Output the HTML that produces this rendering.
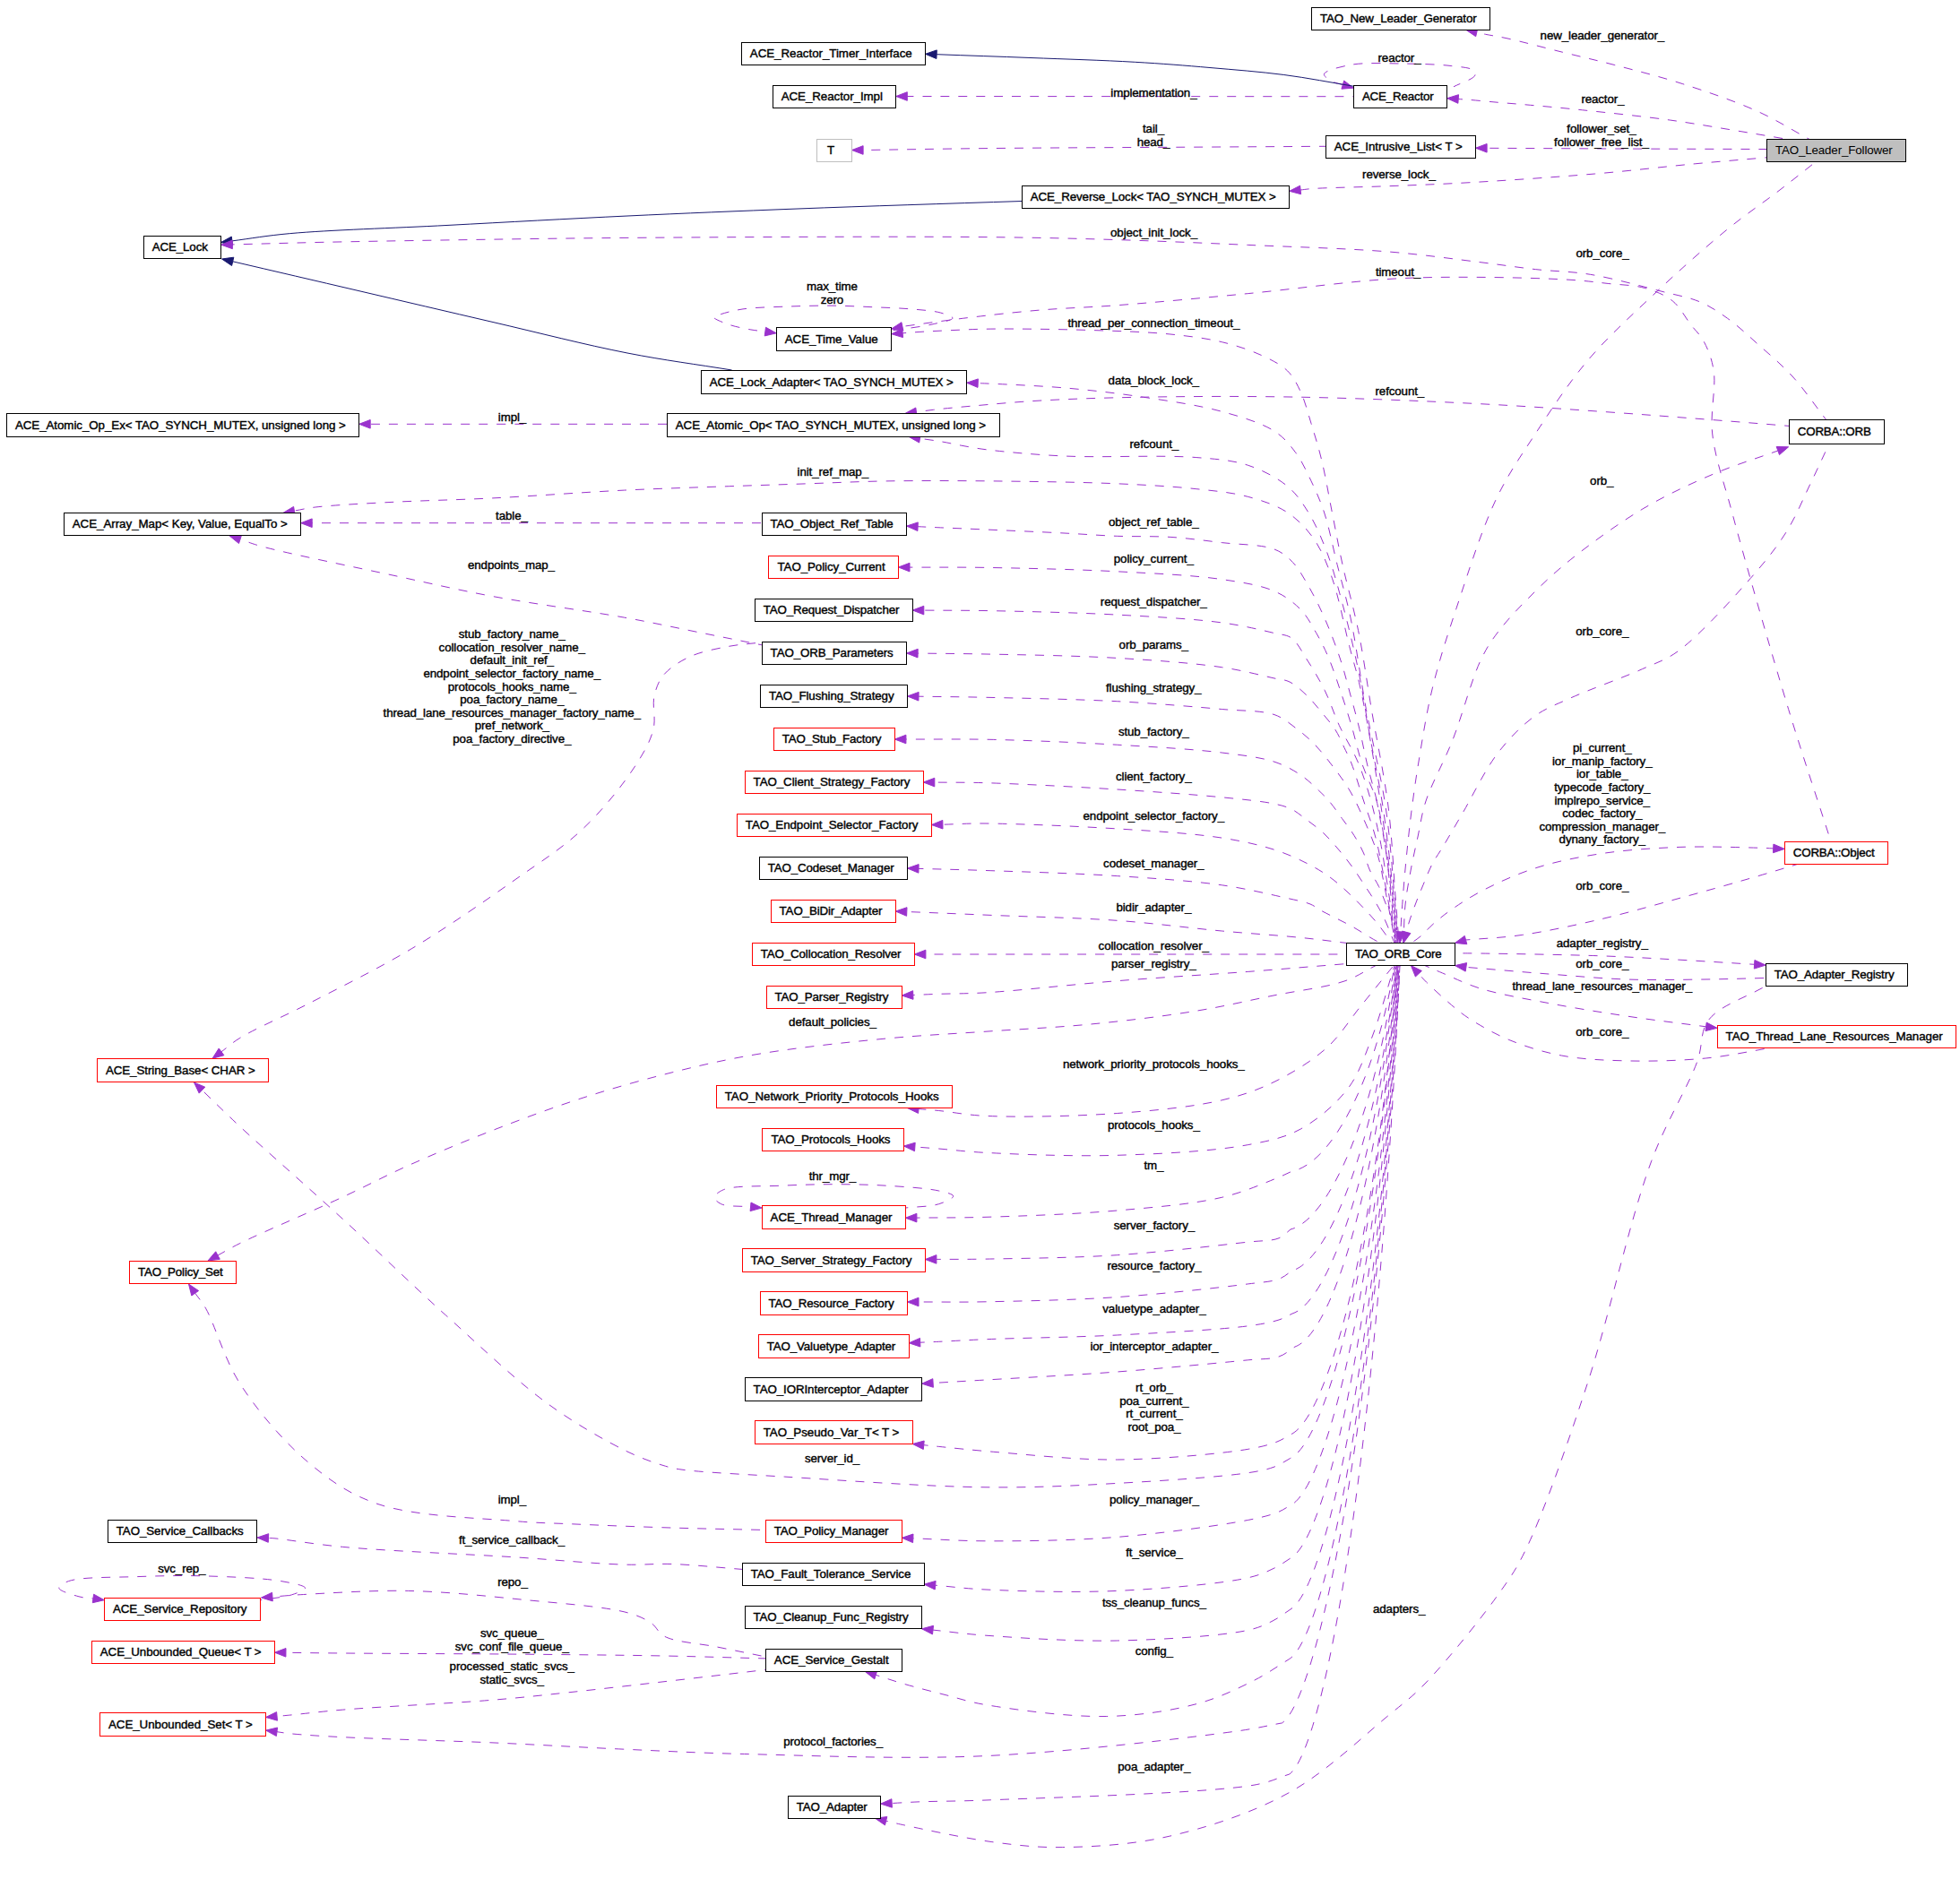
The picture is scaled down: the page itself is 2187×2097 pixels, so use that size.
<!DOCTYPE html><html><head><meta charset="utf-8"><style>html,body{margin:0;padding:0;background:#fff;overflow:hidden;}svg{display:block;}text{font-family:"Liberation Sans",sans-serif;font-size:13.33px;fill:#000;stroke:#000;stroke-width:0.4px;}</style></head><body>
<svg width="2187" height="2097" viewBox="0 0 2187 2097">
<rect width="100%" height="100%" fill="#fff"/>
<g fill="none" stroke-width="1">
<path d="M2019.0,155.5 C1999.7,145.1 1982.5,133.9 1961.0,124.2 C1936.0,112.9 1904.6,102.3 1877.2,93.5 C1851.6,85.3 1825.5,78.8 1801.9,72.6 C1781.2,67.2 1763.0,63.1 1743.3,58.2 C1723.1,53.2 1697.8,46.4 1682.0,42.9 C1672.1,40.7 1663.9,39.6 1657.6,38.3 C1653.6,37.5 1651.1,36.8 1647.8,36.0" stroke="#9a32cd" stroke-dasharray="10,10" stroke-dashoffset="7"/>
<polygon points="1635.6,33.2 1648.9,31.3 1646.7,40.7" fill="#9a32cd" stroke="#9a32cd" stroke-width="1"/>
<path d="M1995.0,155.5 C1974.3,152.0 1954.3,148.6 1933.0,145.1 C1910.5,141.4 1888.5,137.5 1863.3,134.0 C1833.5,129.9 1794.0,125.8 1765.6,122.8 C1743.8,120.5 1724.6,118.8 1707.6,117.3 C1694.2,116.1 1683.6,115.3 1671.8,114.3 C1660.1,113.3 1645.2,111.8 1637.1,111.2 C1632.8,110.9 1630.5,110.8 1627.2,110.5" stroke="#9a32cd" stroke-dasharray="10,10" stroke-dashoffset="14"/>
<polygon points="1614.7,109.7 1627.5,105.7 1626.9,115.3" fill="#9a32cd" stroke="#9a32cd" stroke-width="1"/>
<path d="M1971.3,166.5 C1914.2,166.3 1854.3,166.2 1800.0,166.0 C1750.7,165.8 1706.1,165.5 1659.1,165.3" stroke="#9a32cd" stroke-dasharray="10,10" stroke-dashoffset="1"/>
<polygon points="1646.6,165.2 1659.1,160.5 1659.1,170.1" fill="#9a32cd" stroke="#9a32cd" stroke-width="1"/>
<path d="M1971.3,175.8 C1944.6,178.1 1920.1,180.1 1891.2,182.8 C1857.0,186.0 1818.8,190.7 1779.5,194.0 C1735.6,197.7 1681.6,201.3 1640.0,203.7 C1606.5,205.6 1578.7,206.6 1549.0,207.7 C1520.4,208.8 1480.9,209.4 1464.8,210.5 C1458.3,211.0 1455.7,211.5 1451.1,212.0" stroke="#9a32cd" stroke-dasharray="10,10" stroke-dashoffset="8"/>
<polygon points="1438.7,213.3 1450.6,207.2 1451.6,216.7" fill="#9a32cd" stroke="#9a32cd" stroke-width="1"/>
<path d="M2026.0,180.6 C2012.7,191.1 2000.7,200.7 1986.0,212.0 C1968.3,225.6 1947.8,239.3 1926.8,256.4 C1901.3,277.2 1871.1,304.3 1844.9,329.0 C1819.4,353.0 1793.8,376.1 1771.7,402.2 C1749.9,427.9 1730.8,457.2 1713.2,484.1 C1697.0,508.9 1682.7,529.1 1669.3,557.3 C1652.8,592.0 1637.6,641.2 1625.1,678.7 C1614.5,710.6 1605.4,738.8 1598.3,768.1 C1591.6,795.8 1587.0,825.9 1583.0,850.0 C1579.8,869.0 1577.6,885.1 1575.5,901.0 C1573.7,914.9 1572.4,926.4 1571.0,940.0 C1569.4,954.9 1567.7,972.7 1566.5,987.0 C1565.5,999.0 1564.7,1010.4 1564.0,1020.0 C1563.5,1027.5 1563.2,1033.3 1562.8,1039.9" stroke="#9a32cd" stroke-dasharray="10,10" stroke-dashoffset="15"/>
<polygon points="1562.0,1052.4 1558.0,1039.6 1567.6,1040.2" fill="#9a32cd" stroke="#9a32cd" stroke-width="1"/>
<path d="M1622.0,96.8 C1629.9,92.6 1644.0,88.3 1645.8,84.2 C1646.6,82.3 1646.0,80.1 1644.4,78.6 C1641.0,75.4 1629.2,74.7 1619.1,73.5 C1604.1,71.7 1581.7,71.2 1563.0,71.0 C1544.3,70.8 1522.4,69.5 1506.9,72.4 C1495.3,74.5 1478.1,78.8 1477.4,82.8 C1476.9,85.4 1483.6,89.2 1487.2,91.2 C1490.6,93.1 1494.6,93.4 1498.3,94.6" stroke="#9a32cd" stroke-dasharray="10,10" stroke-dashoffset="2"/>
<polygon points="1510.3,98.2 1496.9,99.2 1499.7,90.0" fill="#9a32cd" stroke="#9a32cd" stroke-width="1"/>
<path d="M1510.3,107.7 C1406.9,107.7 1290.5,107.6 1200.0,107.6 C1129.6,107.6 1074.9,107.5 1012.3,107.5" stroke="#9a32cd" stroke-dasharray="10,10" stroke-dashoffset="9"/>
<polygon points="999.8,107.5 1012.3,102.7 1012.3,112.3" fill="#9a32cd" stroke="#9a32cd" stroke-width="1"/>
<path d="M1512.0,96.5 C1485.6,92.2 1459.6,87.0 1432.8,83.5 C1405.6,80.0 1377.7,77.9 1350.0,75.5 C1322.2,73.1 1296.6,71.0 1266.4,69.3 C1230.8,67.2 1187.8,66.0 1150.0,64.5 C1114.1,63.1 1080.1,62.0 1045.1,60.7" stroke="#191970"/>
<polygon points="1032.6,60.3 1045.3,55.9 1044.9,65.5" fill="#191970" stroke="#191970" stroke-width="1"/>
<path d="M1479.1,163.3 C1427.6,163.6 1380.8,163.9 1324.5,164.2 C1256.6,164.6 1165.6,164.9 1100.0,165.6 C1048.8,166.1 1008.7,166.9 963.1,167.5" stroke="#9a32cd" stroke-dasharray="10,10" stroke-dashoffset="3"/>
<polygon points="950.6,167.5 963.1,162.7 963.1,172.3" fill="#9a32cd" stroke="#9a32cd" stroke-width="1"/>
<path d="M1140.1,224.5 C1056.7,227.3 967.6,230.0 890.0,233.0 C822.3,235.6 764.1,238.0 700.0,241.0 C634.2,244.1 564.6,248.0 500.0,251.4 C439.4,254.6 368.0,256.6 323.7,260.6 C296.7,263.0 280.5,266.1 258.9,268.9" stroke="#191970"/>
<polygon points="246.5,270.5 258.3,264.1 259.5,273.7" fill="#191970" stroke="#191970" stroke-width="1"/>
<path d="M816.6,413.0 C777.7,406.7 741.2,402.1 700.0,394.0 C653.0,384.8 600.0,371.1 550.0,359.5 C500.0,347.9 449.2,336.0 400.0,324.5 C352.4,313.4 306.4,302.7 259.7,291.8" stroke="#191970"/>
<polygon points="247.5,289.0 260.8,287.2 258.6,296.5" fill="#191970" stroke="#191970" stroke-width="1"/>
<path d="M2038.0,468.9 C2025.3,452.6 2013.3,434.5 2000.0,420.0 C1987.8,406.7 1974.5,395.7 1962.0,384.6 C1950.4,374.2 1939.1,363.5 1927.6,355.3 C1917.4,348.0 1908.3,341.8 1897.0,337.0 C1884.7,331.7 1872.1,329.8 1856.1,325.7 C1833.6,319.9 1799.9,310.5 1774.5,306.3 C1752.8,302.7 1733.7,302.9 1713.3,300.6 C1692.9,298.3 1675.0,295.5 1652.0,292.7 C1622.3,289.1 1587.7,284.1 1550.0,281.0 C1503.3,277.2 1444.2,275.7 1392.7,273.4 C1343.1,271.2 1295.2,269.1 1246.4,267.6 C1197.6,266.1 1160.8,265.2 1100.0,264.6 C999.5,263.7 810.5,264.6 700.0,265.4 C621.9,266.0 561.1,267.0 500.0,267.9 C448.3,268.7 400.1,269.5 357.0,270.4 C321.3,271.2 291.9,272.1 259.3,272.9" stroke="#9a32cd" stroke-dasharray="10,10" stroke-dashoffset="4"/>
<polygon points="246.8,273.2 259.2,268.1 259.4,277.7" fill="#9a32cd" stroke="#9a32cd" stroke-width="1"/>
<path d="M2043.0,939.2 C2027.2,889.9 2012.1,845.7 1995.6,791.4 C1975.6,725.6 1947.9,628.8 1932.7,572.0 C1923.1,536.2 1913.8,511.9 1910.7,484.0 C1907.9,459.5 1915.1,432.7 1912.2,413.9 C1910.2,400.6 1905.9,389.9 1901.0,380.8 C1897.0,373.4 1891.9,369.1 1886.7,362.4 C1880.5,354.4 1874.8,342.7 1866.3,335.9 C1857.8,329.1 1846.9,324.8 1835.7,321.6 C1823.3,318.0 1808.5,318.0 1794.9,316.5 C1781.3,315.0 1770.7,313.5 1754.0,312.4 C1727.7,310.7 1686.0,309.6 1652.0,309.4 C1618.0,309.2 1587.6,309.1 1550.0,311.4 C1503.2,314.3 1444.2,322.6 1392.7,327.6 C1343.1,332.4 1288.8,337.5 1246.4,340.7 C1213.8,343.2 1188.0,343.7 1160.0,346.1 C1133.4,348.3 1103.3,351.8 1082.4,354.3 C1068.2,356.0 1058.9,357.3 1046.7,358.9 C1033.8,360.6 1020.2,362.6 1006.9,364.4" stroke="#9a32cd" stroke-dasharray="10,10" stroke-dashoffset="11"/>
<polygon points="994.7,367.0 1005.9,359.7 1007.9,369.1" fill="#9a32cd" stroke="#9a32cd" stroke-width="1"/>
<path d="M994.7,369.0 C1009.8,366.7 1027.5,364.8 1040.0,362.0 C1049.0,359.9 1062.9,357.5 1063.0,355.0 C1063.1,353.1 1055.1,350.6 1049.4,349.0 C1041.0,346.7 1028.2,345.9 1016.7,344.9 C1003.9,343.8 990.1,343.4 975.9,342.8 C960.3,342.1 943.3,341.2 927.0,341.1 C910.7,341.0 894.3,341.5 878.0,342.1 C861.7,342.7 842.5,343.0 829.0,344.9 C819.4,346.3 810.4,348.7 804.5,350.6 C801.0,351.7 796.4,352.5 796.3,353.9 C796.2,355.9 806.6,359.8 812.7,362.0 C819.9,364.6 829.7,366.4 837.1,367.8 C843.2,368.9 848.2,369.3 853.8,370.1" stroke="#9a32cd" stroke-dasharray="10,10" stroke-dashoffset="18"/>
<polygon points="866.2,371.8 853.2,374.9 854.5,365.3" fill="#9a32cd" stroke="#9a32cd" stroke-width="1"/>
<path d="M1996.2,475.4 C1965.3,472.9 1936.1,470.5 1903.4,468.0 C1866.6,465.2 1827.0,462.1 1786.3,459.3 C1742.0,456.2 1697.6,453.0 1647.3,450.5 C1587.6,447.5 1514.9,444.4 1451.3,443.2 C1391.1,442.1 1328.1,442.3 1275.6,443.2 C1233.0,443.9 1194.7,445.1 1160.0,447.1 C1131.5,448.7 1104.1,451.4 1082.4,453.3 C1066.6,454.7 1052.7,456.0 1041.6,457.3 C1034.0,458.2 1028.8,459.0 1022.4,459.8" stroke="#9a32cd" stroke-dasharray="10,10" stroke-dashoffset="5"/>
<polygon points="1010.0,461.4 1021.8,455.0 1023.0,464.6" fill="#9a32cd" stroke="#9a32cd" stroke-width="1"/>
<path d="M1561.0,1052.4 C1559.7,1034.9 1558.6,1020.3 1557.0,1000.0 C1554.8,972.0 1553.3,933.9 1549.0,900.0 C1544.5,864.5 1536.1,825.8 1530.3,791.5 C1525.1,760.7 1521.3,731.5 1515.6,703.7 C1510.4,678.1 1503.2,653.6 1498.1,630.5 C1493.6,610.0 1490.3,591.5 1486.4,572.0 C1482.5,552.5 1479.0,531.1 1474.7,513.4 C1471.1,498.5 1467.0,485.6 1463.0,472.5 C1459.2,460.3 1456.2,447.6 1451.3,437.3 C1447.1,428.4 1443.3,420.5 1436.6,413.9 C1429.1,406.6 1418.4,401.5 1407.3,396.4 C1394.4,390.5 1379.3,385.5 1363.4,381.7 C1345.5,377.4 1326.4,375.1 1304.9,372.9 C1278.7,370.3 1248.1,369.5 1217.1,368.5 C1182.2,367.4 1134.5,366.8 1105.9,367.1 C1087.9,367.3 1075.3,368.0 1062.0,368.6 C1050.9,369.1 1041.0,369.5 1031.4,370.1 C1022.8,370.6 1015.2,371.2 1007.2,371.8" stroke="#9a32cd" stroke-dasharray="10,10" stroke-dashoffset="12"/>
<polygon points="994.7,372.7 1006.8,367.0 1007.5,376.6" fill="#9a32cd" stroke="#9a32cd" stroke-width="1"/>
<path d="M1560.0,1052.4 C1558.7,1034.9 1557.8,1020.3 1556.0,1000.0 C1553.5,972.0 1551.1,933.9 1546.0,900.0 C1540.7,864.4 1531.0,827.2 1524.4,791.5 C1518.0,756.9 1513.1,718.4 1506.9,689.1 C1502.2,666.8 1497.1,650.0 1492.2,630.5 C1487.3,611.0 1483.2,588.9 1477.6,572.0 C1473.2,558.6 1468.4,548.1 1463.0,536.8 C1457.7,525.7 1452.5,514.1 1445.4,504.7 C1438.7,495.7 1432.5,488.0 1422.0,481.2 C1407.6,471.9 1385.2,465.3 1363.4,459.3 C1337.4,452.1 1304.9,447.6 1275.6,443.2 C1246.4,438.8 1217.0,435.4 1187.8,432.9 C1158.8,430.4 1115.6,428.7 1101.0,428.0 C1096.1,427.8 1094.5,427.8 1091.2,427.6" stroke="#9a32cd" stroke-dasharray="10,10" stroke-dashoffset="19"/>
<polygon points="1078.7,427.2 1091.4,422.9 1091.0,432.4" fill="#9a32cd" stroke="#9a32cd" stroke-width="1"/>
<path d="M1560.0,1052.4 C1558.3,1034.9 1557.2,1020.2 1555.0,1000.0 C1552.0,972.0 1547.8,931.4 1543.0,900.0 C1538.7,871.8 1533.0,846.0 1528.3,820.0 C1523.9,795.3 1520.6,771.7 1515.6,747.6 C1510.5,723.2 1504.3,697.4 1498.1,674.4 C1492.5,653.7 1487.3,633.8 1480.5,615.9 C1474.4,600.0 1467.9,584.8 1460.0,572.0 C1453.0,560.8 1446.7,551.1 1436.6,542.7 C1425.0,533.1 1408.9,524.7 1392.7,519.3 C1375.0,513.5 1358.2,512.4 1334.2,510.5 C1296.5,507.5 1230.4,511.0 1187.8,509.0 C1154.8,507.5 1121.0,504.3 1100.0,501.7 C1088.1,500.2 1080.7,498.6 1072.2,497.1 C1064.9,495.8 1059.0,494.3 1051.8,493.1 C1043.8,491.7 1034.9,490.5 1026.5,489.3" stroke="#9a32cd" stroke-dasharray="10,10" stroke-dashoffset="6"/>
<polygon points="1014.1,487.4 1027.2,484.5 1025.7,494.0" fill="#9a32cd" stroke="#9a32cd" stroke-width="1"/>
<path d="M1559.0,1052.4 C1557.3,1034.9 1556.3,1020.2 1554.0,1000.0 C1550.8,972.0 1545.9,933.2 1541.0,900.0 C1536.1,866.9 1529.3,826.9 1524.6,801.3 C1521.6,785.0 1519.5,774.6 1516.4,761.3 C1513.3,748.0 1509.8,737.1 1505.8,721.7 C1500.2,700.4 1494.1,666.9 1486.4,645.2 C1480.3,628.2 1474.7,613.8 1465.9,601.3 C1457.8,589.7 1448.3,579.7 1436.6,572.0 C1424.1,563.8 1408.7,558.7 1392.7,554.4 C1374.9,549.6 1355.7,547.9 1334.2,545.6 C1307.9,542.8 1279.0,541.2 1246.4,539.8 C1205.7,538.0 1153.1,537.4 1108.8,536.9 C1067.5,536.5 1025.9,536.3 989.1,536.9 C957.5,537.4 930.5,538.8 901.2,539.8 C871.9,540.8 844.8,541.6 813.4,542.7 C777.2,544.0 737.6,545.1 696.4,547.1 C650.3,549.4 595.4,553.6 550.0,555.9 C510.5,557.9 473.8,558.5 439.0,560.3 C408.0,561.9 370.9,563.7 351.2,566.1 C341.1,567.3 336.0,568.8 328.4,570.1" stroke="#9a32cd" stroke-dasharray="10,10" stroke-dashoffset="13"/>
<polygon points="316.1,572.3 327.6,565.4 329.2,574.9" fill="#9a32cd" stroke="#9a32cd" stroke-width="1"/>
<path d="M1559.0,1052.4 C1557.0,1034.9 1555.6,1019.8 1553.0,1000.0 C1549.6,974.0 1545.3,936.6 1540.0,910.0 C1535.7,888.4 1529.4,869.3 1525.3,851.9 C1522.0,837.8 1520.0,826.4 1516.9,813.6 C1513.8,800.7 1510.3,788.0 1506.7,775.0 C1503.1,761.8 1499.9,748.7 1495.3,735.0 C1490.3,720.1 1483.9,703.1 1477.6,689.0 C1472.0,676.4 1466.2,664.7 1460.0,654.0 C1454.4,644.4 1449.3,634.6 1442.5,627.6 C1436.4,621.3 1431.2,616.6 1422.0,613.0 C1408.0,607.5 1382.8,607.9 1363.4,605.6 C1344.2,603.3 1325.4,600.6 1306.1,599.4 C1286.4,598.2 1266.5,599.0 1246.4,598.3 C1225.7,597.5 1206.1,595.9 1183.7,594.8 C1157.8,593.5 1124.9,592.1 1100.0,591.0 C1080.0,590.1 1059.9,589.3 1045.9,588.7 C1037.0,588.3 1031.4,588.0 1024.1,587.7" stroke="#9a32cd" stroke-dasharray="10,10" stroke-dashoffset="0"/>
<polygon points="1011.6,587.1 1024.3,582.9 1023.9,592.5" fill="#9a32cd" stroke="#9a32cd" stroke-width="1"/>
<path d="M1558.0,1052.4 C1556.0,1034.9 1553.9,1017.3 1552.0,1000.0 C1550.1,983.1 1548.8,965.5 1546.5,950.0 C1544.5,936.4 1541.7,922.6 1539.6,912.0 C1538.1,904.3 1537.8,899.7 1535.5,892.0 C1532.1,880.7 1524.0,864.9 1519.4,851.2 C1515.0,837.9 1512.3,824.4 1508.4,811.2 C1504.5,798.0 1500.4,785.0 1496.0,772.0 C1491.6,758.9 1487.0,744.6 1482.0,733.0 C1477.8,723.2 1473.8,715.2 1468.8,706.6 C1463.6,697.7 1458.8,687.9 1451.3,680.3 C1443.4,672.2 1434.1,665.1 1422.0,659.8 C1406.3,652.9 1386.4,650.0 1363.4,646.6 C1331.2,641.8 1287.6,640.0 1246.4,637.8 C1200.4,635.4 1142.2,634.1 1100.0,633.4 C1067.8,632.9 1043.3,633.2 1015.0,633.1" stroke="#9a32cd" stroke-dasharray="10,10" stroke-dashoffset="7"/>
<polygon points="1002.5,633.0 1015.0,628.3 1015.0,637.9" fill="#9a32cd" stroke="#9a32cd" stroke-width="1"/>
<path d="M1558.0,1052.4 C1555.3,1034.9 1552.7,1017.4 1550.0,1000.0 C1547.3,982.8 1544.3,961.7 1542.0,948.5 C1540.5,940.3 1539.7,936.2 1538.0,928.5 C1535.7,917.9 1532.7,903.7 1529.0,891.0 C1525.1,877.5 1520.7,863.4 1515.0,850.0 C1509.2,836.2 1500.5,823.0 1494.3,809.5 C1488.3,796.4 1484.3,782.8 1478.1,770.3 C1472.0,758.0 1464.3,745.4 1457.6,735.0 C1452.0,726.4 1447.7,716.7 1441.0,712.0 C1435.4,708.1 1430.1,708.6 1422.0,706.6 C1407.9,703.2 1386.4,698.0 1363.4,694.9 C1331.2,690.5 1287.0,688.3 1246.4,686.1 C1202.4,683.7 1148.2,682.5 1108.8,681.7 C1079.1,681.1 1056.8,681.3 1030.8,681.1" stroke="#9a32cd" stroke-dasharray="10,10" stroke-dashoffset="14"/>
<polygon points="1018.3,681.0 1030.8,676.3 1030.8,685.9" fill="#9a32cd" stroke="#9a32cd" stroke-width="1"/>
<path d="M1557.0,1052.4 C1554.0,1034.9 1551.4,1018.4 1548.0,1000.0 C1544.2,979.5 1540.1,954.3 1535.0,935.0 C1530.8,919.1 1525.6,906.1 1521.0,892.0 C1516.6,878.4 1512.1,862.5 1508.0,852.0 C1505.2,844.9 1502.9,840.5 1500.0,834.5 C1496.9,828.0 1494.1,820.9 1490.0,814.5 C1485.7,807.7 1479.9,801.3 1474.7,795.0 C1469.6,788.8 1464.8,782.6 1459.0,777.0 C1453.0,771.2 1445.8,764.3 1439.0,761.0 C1433.4,758.3 1429.4,758.6 1422.0,757.0 C1408.3,754.0 1386.4,748.1 1363.4,744.7 C1331.2,739.9 1287.6,736.8 1246.4,734.4 C1200.4,731.7 1140.9,730.8 1100.0,730.0 C1070.6,729.4 1049.4,729.4 1024.1,729.1" stroke="#9a32cd" stroke-dasharray="10,10" stroke-dashoffset="1"/>
<polygon points="1011.6,729.0 1024.2,724.3 1024.0,733.9" fill="#9a32cd" stroke="#9a32cd" stroke-width="1"/>
<path d="M1557.0,1052.4 C1553.0,1031.6 1548.7,1008.1 1545.0,990.0 C1542.2,976.0 1540.6,964.9 1537.0,953.0 C1533.5,941.4 1528.9,930.8 1524.0,919.5 C1518.8,907.5 1513.0,894.1 1506.5,883.0 C1500.5,872.8 1493.8,863.9 1487.0,855.0 C1480.3,846.2 1473.2,837.2 1465.9,829.8 C1459.3,823.1 1452.7,817.5 1445.4,812.2 C1438.1,806.8 1432.1,801.1 1422.0,797.6 C1407.3,792.6 1386.3,793.6 1363.4,791.5 C1331.1,788.6 1287.6,784.9 1246.4,782.7 C1200.4,780.3 1140.7,779.2 1100.0,778.3 C1070.9,777.6 1050.0,777.6 1025.0,777.2" stroke="#9a32cd" stroke-dasharray="10,10" stroke-dashoffset="8"/>
<polygon points="1012.5,777.0 1025.1,772.4 1024.9,782.0" fill="#9a32cd" stroke="#9a32cd" stroke-width="1"/>
<path d="M1558.0,1052.4 C1556.6,1043.9 1555.9,1034.6 1553.7,1026.8 C1551.7,1019.9 1548.5,1014.2 1546.0,1008.0 C1543.5,1001.9 1541.6,995.7 1538.7,989.7 C1535.7,983.4 1531.3,977.4 1528.4,971.0 C1525.6,964.8 1524.3,958.3 1521.5,952.0 C1518.6,945.4 1514.9,938.8 1511.0,932.5 C1507.0,926.0 1502.1,919.8 1497.5,913.5 C1492.8,907.0 1487.7,899.5 1483.0,894.0 C1479.2,889.5 1476.1,886.6 1471.7,882.4 C1466.0,877.0 1459.1,870.1 1451.3,864.9 C1442.7,859.2 1433.8,854.1 1422.0,850.2 C1406.1,845.0 1386.4,842.9 1363.4,840.0 C1331.2,836.0 1287.0,833.6 1246.4,831.2 C1202.4,828.6 1150.8,826.4 1108.8,825.4 C1073.4,824.6 1043.5,825.2 1010.9,825.0" stroke="#9a32cd" stroke-dasharray="10,10" stroke-dashoffset="15"/>
<polygon points="998.4,825.0 1010.9,820.2 1010.9,829.8" fill="#9a32cd" stroke="#9a32cd" stroke-width="1"/>
<path d="M1556.0,1052.4 C1551.8,1042.5 1547.7,1031.4 1543.5,1022.7 C1540.0,1015.6 1536.7,1010.1 1533.0,1004.0 C1529.4,998.0 1525.6,992.6 1521.7,986.6 C1517.5,980.2 1513.2,973.4 1508.5,967.0 C1503.8,960.5 1498.8,954.2 1493.5,948.0 C1488.1,941.7 1482.6,935.1 1476.5,929.5 C1470.5,924.0 1463.7,919.1 1457.5,914.5 C1451.9,910.3 1446.9,905.9 1441.0,903.0 C1435.1,900.1 1430.2,898.9 1422.0,897.1 C1407.9,894.1 1386.3,892.1 1363.4,889.8 C1331.1,886.6 1287.6,883.6 1246.4,881.0 C1200.3,878.1 1137.5,874.8 1100.0,873.7 C1076.5,873.0 1061.9,873.3 1042.8,873.1" stroke="#9a32cd" stroke-dasharray="10,10" stroke-dashoffset="2"/>
<polygon points="1030.3,873.0 1042.8,868.3 1042.8,877.9" fill="#9a32cd" stroke="#9a32cd" stroke-width="1"/>
<path d="M1553.0,1052.4 C1547.7,1045.2 1542.5,1037.4 1537.0,1030.7 C1531.9,1024.4 1526.7,1018.8 1521.2,1013.0 C1515.4,1006.9 1509.2,1000.7 1503.0,995.0 C1496.8,989.4 1490.9,984.0 1484.0,979.0 C1476.7,973.7 1469.1,969.1 1460.0,964.4 C1449.0,958.7 1436.3,952.9 1422.0,948.3 C1404.8,942.8 1386.4,938.7 1363.4,935.1 C1331.2,930.1 1287.6,927.5 1246.4,924.9 C1200.4,922.0 1135.6,919.3 1100.0,919.0 C1079.6,918.8 1067.9,919.8 1051.9,920.2" stroke="#9a32cd" stroke-dasharray="10,10" stroke-dashoffset="9"/>
<polygon points="1039.4,920.5 1051.8,915.4 1052.0,925.0" fill="#9a32cd" stroke="#9a32cd" stroke-width="1"/>
<path d="M1540.0,1052.4 C1536.2,1050.3 1532.7,1048.5 1528.5,1046.0 C1523.1,1042.9 1516.6,1038.4 1510.5,1035.0 C1504.6,1031.6 1498.5,1028.7 1492.5,1025.6 C1486.5,1022.5 1479.9,1019.4 1474.5,1016.4 C1469.9,1013.9 1467.1,1011.1 1462.0,1009.0 C1455.2,1006.2 1447.3,1004.9 1436.6,1002.5 C1418.5,998.4 1390.8,991.7 1363.4,987.8 C1329.1,982.9 1287.2,980.2 1246.4,977.6 C1201.7,974.7 1146.3,973.1 1105.9,971.7 C1075.2,970.6 1052.0,970.1 1025.0,969.4" stroke="#9a32cd" stroke-dasharray="10,10" stroke-dashoffset="16"/>
<polygon points="1012.5,969.0 1025.1,964.6 1024.9,974.2" fill="#9a32cd" stroke="#9a32cd" stroke-width="1"/>
<path d="M1502.3,1052.4 C1485.3,1050.4 1470.6,1048.3 1451.3,1046.4 C1426.0,1043.8 1394.8,1041.9 1363.4,1039.0 C1327.2,1035.7 1287.0,1030.2 1246.4,1027.3 C1202.4,1024.2 1150.7,1023.2 1108.8,1021.5 C1073.6,1020.0 1044.1,1018.8 1011.8,1017.5" stroke="#9a32cd" stroke-dasharray="10,10" stroke-dashoffset="3"/>
<polygon points="999.3,1017.0 1012.0,1012.7 1011.6,1022.3" fill="#9a32cd" stroke="#9a32cd" stroke-width="1"/>
<path d="M1502.3,1065.0 C1401.5,1065.0 1285.9,1065.0 1200.0,1065.0 C1136.1,1065.0 1088.6,1065.0 1032.9,1065.0" stroke="#9a32cd" stroke-dasharray="10,10" stroke-dashoffset="10"/>
<polygon points="1020.4,1065.0 1032.9,1060.2 1032.9,1069.8" fill="#9a32cd" stroke="#9a32cd" stroke-width="1"/>
<path d="M1502.3,1075.6 C1465.8,1078.5 1431.9,1081.4 1392.7,1084.4 C1347.5,1087.8 1295.2,1090.8 1246.4,1094.7 C1197.6,1098.6 1136.6,1105.6 1100.0,1107.8 C1078.2,1109.1 1062.5,1108.8 1047.6,1109.3 C1036.6,1109.7 1028.4,1110.1 1018.8,1110.5" stroke="#9a32cd" stroke-dasharray="10,10" stroke-dashoffset="17"/>
<polygon points="1006.3,1111.0 1018.6,1105.7 1019.0,1115.3" fill="#9a32cd" stroke="#9a32cd" stroke-width="1"/>
<path d="M1535.0,1077.6 C1523.3,1083.4 1514.4,1090.1 1500.0,1095.0 C1479.5,1102.0 1448.8,1105.4 1422.0,1110.8 C1393.6,1116.5 1365.7,1123.2 1334.2,1128.3 C1298.1,1134.2 1256.2,1139.2 1217.1,1143.0 C1178.1,1146.8 1138.5,1148.5 1100.0,1151.2 C1062.5,1153.8 1028.2,1155.3 989.1,1159.0 C944.8,1163.2 889.9,1169.1 848.0,1176.0 C814.0,1181.6 787.4,1187.6 756.1,1195.3 C722.9,1203.5 687.9,1213.2 654.1,1224.0 C619.9,1234.9 585.5,1247.6 552.0,1260.6 C518.9,1273.4 484.0,1288.0 454.1,1301.4 C428.3,1313.0 409.4,1323.4 382.7,1335.8 C349.0,1351.5 292.1,1375.5 267.9,1387.5 C256.4,1393.2 251.3,1396.5 243.0,1401.0" stroke="#9a32cd" stroke-dasharray="10,10" stroke-dashoffset="4"/>
<polygon points="232.0,1407.0 240.7,1396.8 245.3,1405.3" fill="#9a32cd" stroke="#9a32cd" stroke-width="1"/>
<path d="M1559.0,1077.6 C1535.1,1407.6 1479.5,1609.3 1439.5,1627.6 C1433.7,1630.7 1428.8,1634.5 1422.0,1637.0 C1413.7,1640.1 1406.3,1641.6 1392.7,1643.7 C1362.6,1648.3 1295.2,1652.7 1246.4,1655.4 C1197.6,1658.1 1154.0,1660.4 1100.0,1659.8 C1033.2,1659.1 938.3,1651.9 875.8,1648.1 C830.9,1645.4 781.6,1643.1 760.0,1640.0 C751.5,1638.8 749.4,1638.3 742.4,1636.2 C731.2,1632.9 716.3,1627.9 700.0,1620.0 C675.6,1608.1 642.5,1589.3 612.3,1567.4 C575.5,1540.7 535.5,1502.0 497.5,1467.9 C458.9,1433.2 421.1,1395.9 382.7,1360.7 C344.6,1325.8 296.7,1284.1 267.9,1257.4 C250.2,1240.9 239.6,1230.2 225.5,1216.7" stroke="#9a32cd" stroke-dasharray="10,10" stroke-dashoffset="11"/>
<polygon points="216.5,1208.0 228.8,1213.2 222.2,1220.1" fill="#9a32cd" stroke="#9a32cd" stroke-width="1"/>
<path d="M1555.0,1077.6 C1542.9,1092.6 1530.9,1107.4 1518.6,1122.5 C1506.1,1137.9 1495.8,1155.5 1480.5,1169.3 C1464.0,1184.1 1442.1,1197.4 1422.0,1207.3 C1403.0,1216.6 1386.6,1222.3 1363.4,1227.8 C1331.4,1235.3 1287.7,1239.5 1246.4,1242.5 C1200.4,1245.8 1136.5,1247.1 1100.0,1245.4 C1078.1,1244.4 1061.5,1240.9 1047.6,1239.5 C1038.5,1238.6 1032.5,1238.3 1025.0,1237.6" stroke="#9a32cd" stroke-dasharray="10,10" stroke-dashoffset="18"/>
<polygon points="1012.5,1236.6 1025.4,1232.8 1024.6,1242.4" fill="#9a32cd" stroke="#9a32cd" stroke-width="1"/>
<path d="M1556.0,1077.6 C1547.3,1105.1 1539.6,1135.6 1530.0,1160.0 C1522.0,1180.5 1516.3,1198.7 1503.9,1215.0 C1490.6,1232.3 1470.5,1249.5 1451.3,1260.0 C1433.2,1269.9 1416.9,1273.0 1392.7,1277.6 C1355.2,1284.7 1295.2,1287.8 1246.4,1289.3 C1197.6,1290.8 1136.5,1288.3 1100.0,1286.4 C1078.1,1285.3 1062.2,1283.2 1047.6,1282.0 C1037.2,1281.2 1029.8,1280.6 1020.9,1280.0" stroke="#9a32cd" stroke-dasharray="10,10" stroke-dashoffset="5"/>
<polygon points="1008.4,1279.0 1021.2,1275.2 1020.5,1284.7" fill="#9a32cd" stroke="#9a32cd" stroke-width="1"/>
<path d="M1556.0,1077.6 C1533.2,1215.2 1482.0,1299.4 1442.0,1307.0 C1435.3,1310.0 1430.5,1312.5 1422.0,1315.9 C1407.7,1321.6 1386.6,1330.9 1363.4,1336.3 C1331.4,1343.8 1287.7,1347.4 1246.4,1351.0 C1200.4,1355.0 1141.1,1357.1 1100.0,1358.3 C1070.2,1359.2 1048.6,1358.8 1022.9,1359.1" stroke="#9a32cd" stroke-dasharray="10,10" stroke-dashoffset="12"/>
<polygon points="1010.4,1359.2 1022.9,1354.3 1022.9,1363.9" fill="#9a32cd" stroke="#9a32cd" stroke-width="1"/>
<path d="M1557.0,1077.6 C1533.6,1254.2 1480.0,1362.2 1440.0,1372.0 C1435.7,1375.3 1432.8,1379.5 1427.0,1381.8 C1418.6,1385.2 1408.1,1384.4 1392.7,1386.1 C1360.9,1389.7 1295.2,1397.5 1246.4,1400.7 C1197.7,1403.9 1137.1,1404.4 1100.0,1405.1 C1077.2,1405.5 1063.3,1405.3 1044.9,1405.4" stroke="#9a32cd" stroke-dasharray="10,10" stroke-dashoffset="19"/>
<polygon points="1032.4,1405.5 1044.9,1400.6 1044.9,1410.2" fill="#9a32cd" stroke="#9a32cd" stroke-width="1"/>
<path d="M1558.0,1077.6 C1534.8,1281.8 1482.0,1406.7 1442.0,1418.0 C1437.0,1421.1 1433.3,1425.0 1427.0,1427.4 C1418.2,1430.7 1408.1,1430.9 1392.7,1432.9 C1360.9,1437.0 1295.2,1444.3 1246.4,1447.6 C1197.7,1450.9 1140.7,1452.0 1100.0,1452.8 C1070.9,1453.4 1050.0,1452.9 1025.0,1453.0" stroke="#9a32cd" stroke-dasharray="10,10" stroke-dashoffset="6"/>
<polygon points="1012.5,1453.0 1025.0,1448.2 1025.0,1457.8" fill="#9a32cd" stroke="#9a32cd" stroke-width="1"/>
<path d="M1558.0,1077.6 C1534.8,1310.6 1482.0,1453.1 1442.0,1466.0 C1437.0,1468.3 1433.2,1471.0 1427.0,1473.0 C1418.0,1475.9 1408.2,1477.7 1392.7,1479.8 C1361.0,1484.0 1295.2,1487.5 1246.4,1490.0 C1197.6,1492.5 1136.5,1493.2 1100.0,1494.7 C1078.1,1495.6 1061.1,1496.7 1047.6,1497.3 C1039.1,1497.7 1033.7,1497.9 1026.7,1498.2" stroke="#9a32cd" stroke-dasharray="10,10" stroke-dashoffset="13"/>
<polygon points="1014.2,1498.8 1026.5,1493.4 1026.9,1503.0" fill="#9a32cd" stroke="#9a32cd" stroke-width="1"/>
<path d="M1559.0,1077.6 C1536.2,1332.8 1485.0,1488.8 1445.0,1503.0 C1439.0,1506.7 1434.3,1511.5 1427.0,1514.0 C1417.7,1517.2 1408.1,1516.3 1392.7,1517.8 C1360.9,1521.0 1295.2,1527.3 1246.4,1531.0 C1197.6,1534.7 1137.9,1537.7 1100.0,1540.0 C1076.0,1541.4 1060.7,1542.3 1041.1,1543.5" stroke="#9a32cd" stroke-dasharray="10,10" stroke-dashoffset="0"/>
<polygon points="1028.6,1544.2 1040.8,1538.7 1041.4,1548.3" fill="#9a32cd" stroke="#9a32cd" stroke-width="1"/>
<path d="M1559.0,1077.6 C1535.2,1391.6 1480.0,1583.6 1440.0,1601.0 C1435.0,1603.7 1431.1,1606.6 1425.0,1609.0 C1416.4,1612.3 1407.5,1614.8 1392.7,1617.3 C1361.7,1622.5 1294.4,1628.6 1246.4,1629.0 C1199.8,1629.4 1145.5,1623.2 1108.8,1620.3 C1084.3,1618.3 1061.6,1615.8 1047.6,1614.4 C1040.2,1613.7 1036.4,1613.3 1030.7,1612.7" stroke="#9a32cd" stroke-dasharray="10,10" stroke-dashoffset="7"/>
<polygon points="1018.3,1611.5 1031.2,1608.0 1030.3,1617.5" fill="#9a32cd" stroke="#9a32cd" stroke-width="1"/>
<path d="M1560.0,1077.6 C1536.0,1439.0 1480.0,1659.9 1440.0,1680.0 C1435.0,1682.7 1431.1,1685.6 1425.0,1688.0 C1416.4,1691.3 1407.5,1693.5 1392.7,1696.4 C1361.6,1702.4 1295.3,1711.5 1246.4,1715.4 C1197.7,1719.3 1141.7,1720.0 1100.0,1719.8 C1069.0,1719.7 1045.9,1717.8 1018.8,1716.8" stroke="#9a32cd" stroke-dasharray="10,10" stroke-dashoffset="14"/>
<polygon points="1006.3,1716.3 1019.0,1712.0 1018.6,1721.6" fill="#9a32cd" stroke="#9a32cd" stroke-width="1"/>
<path d="M1560.0,1077.6 C1536.0,1474.4 1480.0,1717.0 1440.0,1739.0 C1434.0,1742.7 1428.9,1746.7 1422.0,1750.0 C1413.6,1754.1 1406.5,1757.6 1392.7,1760.8 C1362.8,1767.7 1295.2,1773.2 1246.4,1775.4 C1197.7,1777.6 1137.3,1775.8 1100.0,1774.0 C1076.8,1772.9 1062.4,1770.8 1043.7,1769.2" stroke="#9a32cd" stroke-dasharray="10,10" stroke-dashoffset="1"/>
<polygon points="1031.2,1768.1 1044.1,1764.4 1043.2,1774.0" fill="#9a32cd" stroke="#9a32cd" stroke-width="1"/>
<path d="M1561.0,1077.6 C1536.8,1508.6 1480.0,1772.1 1440.0,1796.0 C1433.3,1800.3 1427.4,1805.3 1420.0,1809.0 C1411.8,1813.1 1405.7,1816.4 1392.7,1819.3 C1363.5,1825.8 1295.2,1830.0 1246.4,1831.0 C1197.6,1832.0 1137.9,1827.9 1100.0,1825.2 C1075.9,1823.5 1060.7,1821.1 1041.0,1819.1" stroke="#9a32cd" stroke-dasharray="10,10" stroke-dashoffset="8"/>
<polygon points="1028.6,1817.8 1041.5,1814.3 1040.5,1823.9" fill="#9a32cd" stroke="#9a32cd" stroke-width="1"/>
<path d="M1561.0,1077.6 C1536.6,1541.9 1478.8,1825.6 1438.8,1851.4 C1425.9,1859.3 1414.8,1867.5 1400.0,1875.0 C1381.8,1884.2 1360.8,1894.6 1336.7,1901.2 C1307.2,1909.2 1271.1,1914.7 1234.7,1915.5 C1193.0,1916.4 1132.7,1908.1 1100.0,1902.6 C1080.9,1899.4 1070.3,1895.5 1055.1,1891.6 C1039.4,1887.6 1021.4,1883.0 1007.4,1878.9 C996.1,1875.6 987.3,1872.5 977.2,1869.3" stroke="#9a32cd" stroke-dasharray="10,10" stroke-dashoffset="15"/>
<polygon points="965.3,1865.5 978.7,1864.7 975.8,1873.9" fill="#9a32cd" stroke="#9a32cd" stroke-width="1"/>
<path d="M1562.0,1077.6 C1535.7,1584.8 1470.6,1894.7 1430.6,1922.9 C1413.7,1925.9 1403.8,1928.7 1380.0,1932.0 C1324.4,1939.7 1192.5,1955.4 1100.0,1959.6 C1009.4,1963.7 905.9,1959.3 830.6,1957.5 C776.3,1956.2 737.1,1954.0 690.3,1951.9 C643.5,1949.8 598.8,1947.0 550.0,1944.9 C496.7,1942.6 423.9,1940.8 382.7,1938.7 C358.6,1937.5 338.6,1936.2 325.3,1934.9 C318.2,1934.2 314.4,1933.5 309.0,1932.7" stroke="#9a32cd" stroke-dasharray="10,10" stroke-dashoffset="2"/>
<polygon points="296.6,1931.1 309.6,1928.0 308.4,1937.5" fill="#9a32cd" stroke="#9a32cd" stroke-width="1"/>
<path d="M1562.0,1077.6 C1537.4,1619.0 1478.8,1949.9 1438.8,1980.0 C1425.9,1984.0 1419.3,1988.5 1400.0,1992.0 C1347.4,2001.5 1166.1,2006.3 1100.0,2009.0 C1067.4,2010.3 1046.3,2010.1 1027.0,2010.8 C1014.2,2011.3 1005.8,2011.9 995.2,2012.5" stroke="#9a32cd" stroke-dasharray="10,10" stroke-dashoffset="9"/>
<polygon points="982.7,2013.1 994.9,2007.7 995.4,2017.2" fill="#9a32cd" stroke="#9a32cd" stroke-width="1"/>
<path d="M1970.0,1100.5 C1948.8,1113.1 1918.9,1122.0 1906.5,1138.3 C1896.5,1151.5 1900.5,1166.5 1893.7,1185.0 C1883.0,1214.4 1859.5,1250.6 1842.7,1295.8 C1818.1,1361.9 1795.6,1470.3 1770.3,1547.0 C1748.5,1613.3 1722.3,1688.8 1702.2,1730.0 C1691.2,1752.6 1684.9,1761.0 1671.4,1780.0 C1651.4,1808.0 1613.4,1854.9 1590.0,1879.0 C1574.8,1894.7 1566.2,1900.5 1549.0,1914.7 C1521.4,1937.4 1479.3,1978.0 1438.8,2000.4 C1397.8,2023.1 1348.2,2039.3 1304.1,2049.4 C1263.9,2058.6 1221.3,2061.1 1185.7,2061.6 C1156.6,2062.0 1134.5,2059.3 1106.1,2055.5 C1072.9,2051.0 1015.9,2038.4 999.0,2034.7 C993.7,2033.6 992.1,2033.0 988.7,2032.2" stroke="#9a32cd" stroke-dasharray="10,10" stroke-dashoffset="16"/>
<polygon points="976.5,2029.3 989.8,2027.5 987.5,2036.9" fill="#9a32cd" stroke="#9a32cd" stroke-width="1"/>
<path d="M1566.0,1052.4 C1566.7,1038.3 1566.6,1023.7 1568.0,1010.0 C1569.3,996.9 1571.7,984.6 1574.0,972.0 C1576.3,959.3 1579.2,946.8 1582.0,934.0 C1584.9,920.8 1586.1,908.8 1591.0,894.0 C1597.5,874.2 1611.0,850.9 1620.6,826.6 C1631.6,798.8 1641.9,758.2 1652.5,736.1 C1659.2,722.2 1664.1,715.0 1672.6,703.9 C1683.2,690.0 1698.8,674.0 1712.5,660.5 C1725.6,647.6 1736.6,637.2 1752.8,624.3 C1774.5,607.0 1805.6,584.2 1832.9,568.0 C1859.0,552.5 1886.7,539.7 1912.9,528.6 C1937.0,518.4 1960.2,511.6 1983.8,503.0" stroke="#9a32cd" stroke-dasharray="10,10" stroke-dashoffset="3"/>
<polygon points="1995.6,498.8 1985.5,507.6 1982.2,498.5" fill="#9a32cd" stroke="#9a32cd" stroke-width="1"/>
<path d="M2041.0,495.3 C2034.0,510.2 2027.5,524.5 2020.0,540.0 C2011.7,557.1 2004.1,576.3 1993.3,593.5 C1982.0,611.6 1969.4,627.0 1953.0,645.7 C1931.4,670.3 1896.0,709.6 1872.6,726.6 C1857.9,737.2 1848.3,739.5 1832.4,746.7 C1810.4,756.6 1774.0,769.2 1752.0,779.2 C1736.2,786.4 1724.7,790.3 1712.0,799.5 C1697.7,809.9 1684.1,823.8 1671.6,840.0 C1656.9,859.1 1642.7,889.2 1631.4,908.5 C1623.1,922.6 1616.2,934.7 1610.0,945.0 C1605.4,952.7 1601.3,958.0 1597.7,965.0 C1594.0,972.2 1591.1,980.0 1588.0,987.5 C1584.9,995.0 1581.7,1002.7 1579.0,1010.0 C1576.4,1016.8 1573.7,1024.4 1572.0,1030.0 C1570.8,1034.0 1570.2,1036.9 1569.2,1040.3" stroke="#9a32cd" stroke-dasharray="10,10" stroke-dashoffset="10"/>
<polygon points="1566.0,1052.4 1564.6,1039.1 1573.9,1041.6" fill="#9a32cd" stroke="#9a32cd" stroke-width="1"/>
<path d="M1575.0,1052.4 C1578.3,1049.9 1581.4,1048.0 1585.0,1045.0 C1589.6,1041.1 1594.6,1035.2 1600.0,1030.5 C1605.9,1025.4 1611.6,1020.7 1619.2,1015.4 C1629.0,1008.5 1641.0,1000.7 1654.6,993.7 C1671.4,985.0 1692.3,975.5 1713.2,968.8 C1735.9,961.5 1760.7,956.6 1786.3,952.7 C1814.1,948.5 1844.8,946.5 1874.1,945.4 C1903.3,944.3 1944.1,945.8 1961.9,946.2 C1969.7,946.4 1973.1,946.7 1978.7,946.9" stroke="#9a32cd" stroke-dasharray="10,10" stroke-dashoffset="17"/>
<polygon points="1991.2,947.4 1978.5,951.7 1978.9,942.1" fill="#9a32cd" stroke="#9a32cd" stroke-width="1"/>
<path d="M2005.8,964.4 C1991.2,968.8 1979.1,972.6 1961.9,977.6 C1937.7,984.7 1903.4,994.4 1874.1,1002.4 C1844.9,1010.4 1815.7,1018.9 1786.3,1025.8 C1757.1,1032.6 1725.4,1039.5 1698.5,1043.4 C1675.9,1046.7 1656.5,1047.2 1635.5,1049.0" stroke="#9a32cd" stroke-dasharray="10,10" stroke-dashoffset="4"/>
<polygon points="1623.5,1052.4 1634.3,1044.4 1636.8,1053.7" fill="#9a32cd" stroke="#9a32cd" stroke-width="1"/>
<path d="M1623.5,1064.0 C1629.0,1064.0 1631.8,1063.8 1640.0,1063.9 C1664.5,1064.1 1743.7,1065.3 1786.3,1066.8 C1819.3,1068.0 1845.2,1069.6 1874.1,1071.2 C1902.3,1072.8 1929.8,1074.6 1957.6,1076.3" stroke="#9a32cd" stroke-dasharray="10,10" stroke-dashoffset="11"/>
<polygon points="1970.1,1077.1 1957.3,1081.1 1957.9,1071.5" fill="#9a32cd" stroke="#9a32cd" stroke-width="1"/>
<path d="M1970.1,1091.5 C1947.7,1092.0 1926.9,1092.7 1903.0,1093.0 C1875.7,1093.3 1844.2,1094.0 1815.0,1093.0 C1785.9,1092.0 1757.4,1089.2 1728.0,1087.0 C1697.7,1084.7 1666.6,1081.9 1635.9,1079.4" stroke="#9a32cd" stroke-dasharray="10,10" stroke-dashoffset="18"/>
<polygon points="1623.5,1077.6 1636.6,1074.6 1635.2,1084.1" fill="#9a32cd" stroke="#9a32cd" stroke-width="1"/>
<path d="M1590.0,1077.6 C1596.5,1080.4 1601.7,1082.7 1609.4,1085.9 C1620.7,1090.6 1635.1,1098.0 1651.5,1103.1 C1672.9,1109.7 1701.4,1114.5 1727.8,1119.5 C1756.0,1124.9 1786.3,1129.7 1815.6,1134.1 C1844.9,1138.5 1874.3,1141.9 1903.6,1145.8" stroke="#9a32cd" stroke-dasharray="10,10" stroke-dashoffset="5"/>
<polygon points="1916.0,1147.3 1903.0,1150.6 1904.2,1141.1" fill="#9a32cd" stroke="#9a32cd" stroke-width="1"/>
<path d="M1976.6,1169.3 C1952.2,1173.2 1929.0,1178.5 1903.4,1181.0 C1875.5,1183.7 1843.5,1184.6 1815.6,1183.9 C1790.1,1183.3 1765.2,1182.3 1742.4,1178.0 C1721.6,1174.1 1701.7,1167.8 1683.9,1160.5 C1667.9,1153.9 1651.6,1144.6 1640.0,1137.1 C1631.7,1131.8 1626.8,1127.6 1619.6,1121.6 C1610.9,1114.3 1598.2,1102.6 1591.6,1096.1 C1587.8,1092.3 1585.8,1089.9 1582.9,1086.8" stroke="#9a32cd" stroke-dasharray="10,10" stroke-dashoffset="12"/>
<polygon points="1574.4,1077.6 1586.4,1083.5 1579.4,1090.0" fill="#9a32cd" stroke="#9a32cd" stroke-width="1"/>
<path d="M850.0,583.7 C766.7,583.7 683.5,583.7 600.0,583.7 C516.2,583.7 432.1,583.7 348.2,583.7" stroke="#9a32cd" stroke-dasharray="10,10" stroke-dashoffset="19"/>
<polygon points="335.7,583.7 348.2,578.9 348.2,588.5" fill="#9a32cd" stroke="#9a32cd" stroke-width="1"/>
<path d="M850.0,719.8 C828.1,715.4 807.7,711.3 784.2,706.6 C757.0,701.2 729.5,695.0 696.4,689.1 C653.9,681.5 595.3,674.0 550.0,665.6 C510.3,658.2 478.5,650.7 439.0,642.2 C393.6,632.4 321.0,617.7 292.7,610.0 C280.9,606.8 276.2,604.6 268.0,601.9" stroke="#9a32cd" stroke-dasharray="10,10" stroke-dashoffset="6"/>
<polygon points="256.1,598.0 269.5,597.3 266.5,606.5" fill="#9a32cd" stroke="#9a32cd" stroke-width="1"/>
<path d="M850.0,716.9 C837.8,718.4 826.1,718.9 813.4,721.3 C799.3,724.0 782.2,727.1 769.5,733.0 C758.2,738.2 747.0,745.4 740.3,753.5 C734.7,760.4 732.0,768.1 730.0,777.0 C727.6,787.7 732.1,801.6 729.0,814.0 C725.5,827.9 717.9,840.9 708.0,856.0 C694.3,876.9 672.4,904.1 650.5,924.9 C627.9,946.4 602.4,962.2 574.0,982.3 C539.9,1006.4 498.0,1035.6 459.2,1058.8 C421.5,1081.3 378.9,1102.2 344.4,1120.0 C316.4,1134.5 285.1,1147.7 267.9,1158.3 C258.4,1164.1 254.0,1168.7 247.0,1173.8" stroke="#9a32cd" stroke-dasharray="10,10" stroke-dashoffset="13"/>
<polygon points="237.0,1181.3 244.2,1170.0 249.9,1177.7" fill="#9a32cd" stroke="#9a32cd" stroke-width="1"/>
<path d="M744.1,473.3 C696.1,473.3 651.1,473.3 600.0,473.3 C541.8,473.3 475.5,473.3 413.2,473.3" stroke="#9a32cd" stroke-dasharray="10,10" stroke-dashoffset="0"/>
<polygon points="400.7,473.3 413.2,468.5 413.2,478.1" fill="#9a32cd" stroke="#9a32cd" stroke-width="1"/>
<path d="M1010.4,1348.0 C1022.8,1346.6 1038.0,1346.8 1047.6,1343.7 C1054.3,1341.6 1063.9,1337.4 1063.7,1334.9 C1063.5,1332.5 1054.8,1330.6 1047.6,1329.0 C1034.3,1326.0 1008.6,1324.4 989.1,1323.2 C969.6,1322.0 950.0,1321.7 930.5,1321.7 C911.0,1321.7 892.0,1322.3 872.0,1323.2 C851.0,1324.2 819.5,1322.8 807.6,1327.6 C802.2,1329.8 797.4,1333.5 797.3,1336.3 C797.2,1338.8 800.9,1341.9 804.7,1343.7 C811.4,1346.9 826.6,1345.8 837.6,1346.8" stroke="#9a32cd" stroke-dasharray="10,10" stroke-dashoffset="7"/>
<polygon points="850.0,1348.0 837.1,1351.6 838.0,1342.0" fill="#9a32cd" stroke="#9a32cd" stroke-width="1"/>
<path d="M854.1,1707.5 C821.0,1706.7 789.3,1706.2 754.9,1705.2 C717.5,1704.1 670.9,1702.3 637.8,1700.8 C613.3,1699.7 599.8,1699.8 574.0,1697.5 C533.9,1694.0 462.0,1692.5 420.9,1678.3 C389.7,1667.5 368.4,1652.5 344.4,1632.4 C317.0,1609.4 287.5,1574.9 267.9,1544.4 C250.4,1517.2 239.4,1477.3 229.6,1460.2 C225.0,1452.1 221.7,1448.9 217.7,1443.2" stroke="#9a32cd" stroke-dasharray="10,10" stroke-dashoffset="14"/>
<polygon points="210.5,1433.0 221.6,1440.5 213.8,1446.0" fill="#9a32cd" stroke="#9a32cd" stroke-width="1"/>
<path d="M828.1,1751.4 C802.1,1749.4 773.6,1746.3 750.0,1745.5 C730.5,1744.9 717.9,1746.7 696.4,1746.1 C663.9,1745.2 619.3,1740.7 574.0,1737.8 C517.3,1734.2 432.1,1731.0 382.7,1726.4 C351.4,1723.5 317.7,1717.8 306.1,1716.8 C302.7,1716.5 301.7,1716.6 299.5,1716.5" stroke="#9a32cd" stroke-dasharray="10,10" stroke-dashoffset="1"/>
<polygon points="287.0,1716.0 299.7,1711.7 299.3,1721.3" fill="#9a32cd" stroke="#9a32cd" stroke-width="1"/>
<path d="M290.4,1785.7 C302.0,1783.8 316.2,1782.8 325.3,1779.9 C331.6,1777.9 340.8,1774.6 340.6,1772.3 C340.3,1769.4 325.4,1766.6 313.8,1764.6 C293.7,1761.1 257.0,1759.7 229.6,1758.9 C203.5,1758.1 178.5,1758.7 153.0,1759.6 C127.5,1760.5 90.1,1759.7 76.5,1764.6 C70.9,1766.6 65.5,1769.8 65.8,1772.3 C66.2,1775.6 81.1,1779.9 88.0,1781.8 C93.6,1783.4 98.6,1783.3 103.9,1784.0" stroke="#9a32cd" stroke-dasharray="10,10" stroke-dashoffset="8"/>
<polygon points="116.3,1785.7 103.3,1788.7 104.6,1779.2" fill="#9a32cd" stroke="#9a32cd" stroke-width="1"/>
<path d="M854.4,1849.0 C836.3,1845.3 818.5,1841.7 800.0,1838.0 C780.9,1834.1 753.9,1832.9 741.5,1826.2 C734.2,1822.3 732.9,1815.7 726.9,1811.6 C719.8,1806.7 712.8,1803.3 700.6,1799.9 C675.9,1793.0 623.8,1789.3 583.9,1785.3 C542.1,1781.1 497.2,1776.3 455.4,1775.4 C415.6,1774.6 366.0,1778.0 338.6,1779.5 C323.6,1780.3 315.5,1781.2 304.0,1782.1" stroke="#9a32cd" stroke-dasharray="10,10" stroke-dashoffset="15"/>
<polygon points="291.5,1783.0 303.6,1777.3 304.3,1786.9" fill="#9a32cd" stroke="#9a32cd" stroke-width="1"/>
<path d="M854.2,1850.9 C818.3,1850.0 786.5,1848.9 746.4,1848.1 C695.7,1847.1 633.0,1846.6 574.0,1846.1 C511.9,1845.6 429.4,1845.4 382.7,1845.0 C355.8,1844.8 340.2,1844.6 319.0,1844.3" stroke="#9a32cd" stroke-dasharray="10,10" stroke-dashoffset="2"/>
<polygon points="306.5,1844.2 319.0,1839.5 318.9,1849.1" fill="#9a32cd" stroke="#9a32cd" stroke-width="1"/>
<path d="M854.2,1863.5 C818.3,1867.7 782.7,1871.9 746.4,1876.1 C709.4,1880.4 668.9,1885.1 634.2,1888.8 C604.1,1892.0 582.9,1894.5 550.0,1897.2 C503.7,1901.0 423.9,1904.7 382.7,1908.1 C358.5,1910.1 338.6,1912.6 325.3,1913.9 C318.2,1914.6 314.5,1914.9 309.0,1915.4" stroke="#9a32cd" stroke-dasharray="10,10" stroke-dashoffset="9"/>
<polygon points="296.6,1916.5 308.6,1910.6 309.5,1920.2" fill="#9a32cd" stroke="#9a32cd" stroke-width="1"/>
</g>
<rect x="827.2" y="47.1" width="205.4" height="25.3" fill="#fff" stroke="#000" stroke-width="1" shape-rendering="crispEdges"/>
<text x="836.8" y="64.0" textLength="180.9">ACE_Reactor_Timer_Interface</text>
<rect x="862.1" y="95.2" width="137.7" height="25.4" fill="#fff" stroke="#000" stroke-width="1" shape-rendering="crispEdges"/>
<text x="871.7" y="112.2" textLength="113.2">ACE_Reactor_Impl</text>
<rect x="911.4" y="155.2" width="39.2" height="25.2" fill="#fff" stroke="#bfbfbf" stroke-width="1" shape-rendering="crispEdges"/>
<text x="922.9" y="172.1">T</text>
<rect x="866.1" y="365.0" width="128.5" height="26.4" fill="#fff" stroke="#000" stroke-width="1" shape-rendering="crispEdges"/>
<text x="875.7" y="382.5" textLength="104.0">ACE_Time_Value</text>
<rect x="782.1" y="413.0" width="296.5" height="26.4" fill="#fff" stroke="#000" stroke-width="1" shape-rendering="crispEdges"/>
<text x="791.7" y="430.5" textLength="272.0">ACE_Lock_Adapter&lt; TAO_SYNCH_MUTEX &gt;</text>
<rect x="744.1" y="461.0" width="370.9" height="26.4" fill="#fff" stroke="#000" stroke-width="1" shape-rendering="crispEdges"/>
<text x="753.7" y="478.5" textLength="346.4">ACE_Atomic_Op&lt; TAO_SYNCH_MUTEX, unsigned long &gt;</text>
<rect x="850.0" y="572.3" width="161.6" height="25.1" fill="#fff" stroke="#000" stroke-width="1" shape-rendering="crispEdges"/>
<text x="859.6" y="589.1" textLength="137.1">TAO_Object_Ref_Table</text>
<rect x="857.9" y="620.3" width="144.6" height="25.1" fill="#fff" stroke="#f00" stroke-width="1" shape-rendering="crispEdges"/>
<text x="867.5" y="637.1" textLength="120.1">TAO_Policy_Current</text>
<rect x="842.1" y="668.3" width="176.2" height="25.1" fill="#fff" stroke="#000" stroke-width="1" shape-rendering="crispEdges"/>
<text x="851.7" y="685.1" textLength="151.7">TAO_Request_Dispatcher</text>
<rect x="850.0" y="716.3" width="161.6" height="25.2" fill="#fff" stroke="#000" stroke-width="1" shape-rendering="crispEdges"/>
<text x="859.6" y="733.2" textLength="137.1">TAO_ORB_Parameters</text>
<rect x="848.3" y="764.3" width="164.2" height="25.2" fill="#fff" stroke="#000" stroke-width="1" shape-rendering="crispEdges"/>
<text x="857.9" y="781.2" textLength="139.7">TAO_Flushing_Strategy</text>
<rect x="863.2" y="812.2" width="135.2" height="25.2" fill="#fff" stroke="#f00" stroke-width="1" shape-rendering="crispEdges"/>
<text x="872.8" y="829.1" textLength="110.7">TAO_Stub_Factory</text>
<rect x="831.0" y="860.2" width="199.3" height="25.2" fill="#fff" stroke="#f00" stroke-width="1" shape-rendering="crispEdges"/>
<text x="840.6" y="877.1" textLength="174.8">TAO_Client_Strategy_Factory</text>
<rect x="822.2" y="908.2" width="217.2" height="25.2" fill="#fff" stroke="#f00" stroke-width="1" shape-rendering="crispEdges"/>
<text x="831.8" y="925.1" textLength="192.7">TAO_Endpoint_Selector_Factory</text>
<rect x="847.1" y="956.2" width="165.4" height="25.2" fill="#fff" stroke="#000" stroke-width="1" shape-rendering="crispEdges"/>
<text x="856.7" y="973.1" textLength="140.9">TAO_Codeset_Manager</text>
<rect x="860.0" y="1004.2" width="139.3" height="25.2" fill="#fff" stroke="#f00" stroke-width="1" shape-rendering="crispEdges"/>
<text x="869.6" y="1021.1" textLength="114.8">TAO_BiDir_Adapter</text>
<rect x="839.2" y="1052.2" width="181.2" height="25.2" fill="#fff" stroke="#f00" stroke-width="1" shape-rendering="crispEdges"/>
<text x="848.8" y="1069.1" textLength="156.7">TAO_Collocation_Resolver</text>
<rect x="855.0" y="1100.2" width="151.3" height="25.2" fill="#fff" stroke="#f00" stroke-width="1" shape-rendering="crispEdges"/>
<text x="864.6" y="1117.1" textLength="126.8">TAO_Parser_Registry</text>
<rect x="799.1" y="1211.2" width="263.4" height="25.1" fill="#fff" stroke="#f00" stroke-width="1" shape-rendering="crispEdges"/>
<text x="808.7" y="1228.0" textLength="238.9">TAO_Network_Priority_Protocols_Hooks</text>
<rect x="850.9" y="1259.2" width="157.5" height="25.1" fill="#fff" stroke="#f00" stroke-width="1" shape-rendering="crispEdges"/>
<text x="860.5" y="1276.0" textLength="133.0">TAO_Protocols_Hooks</text>
<rect x="850.0" y="1345.4" width="160.4" height="26.1" fill="#fff" stroke="#f00" stroke-width="1" shape-rendering="crispEdges"/>
<text x="859.6" y="1362.8" textLength="135.9">ACE_Thread_Manager</text>
<rect x="828.1" y="1393.4" width="204.3" height="26.1" fill="#fff" stroke="#f00" stroke-width="1" shape-rendering="crispEdges"/>
<text x="837.7" y="1410.8" textLength="179.8">TAO_Server_Strategy_Factory</text>
<rect x="848.0" y="1441.4" width="164.5" height="26.1" fill="#fff" stroke="#f00" stroke-width="1" shape-rendering="crispEdges"/>
<text x="857.6" y="1458.8" textLength="140.0">TAO_Resource_Factory</text>
<rect x="846.2" y="1489.4" width="168.0" height="26.1" fill="#fff" stroke="#f00" stroke-width="1" shape-rendering="crispEdges"/>
<text x="855.8" y="1506.8" textLength="143.5">TAO_Valuetype_Adapter</text>
<rect x="831.0" y="1537.4" width="197.6" height="26.1" fill="#fff" stroke="#000" stroke-width="1" shape-rendering="crispEdges"/>
<text x="840.6" y="1554.8" textLength="173.1">TAO_IORInterceptor_Adapter</text>
<rect x="842.1" y="1585.4" width="176.2" height="25.8" fill="#fff" stroke="#f00" stroke-width="1" shape-rendering="crispEdges"/>
<text x="851.7" y="1602.6" textLength="151.7">TAO_Pseudo_Var_T&lt; T &gt;</text>
<rect x="854.1" y="1696.4" width="152.2" height="25.1" fill="#fff" stroke="#f00" stroke-width="1" shape-rendering="crispEdges"/>
<text x="863.7" y="1713.2" textLength="127.7">TAO_Policy_Manager</text>
<rect x="828.1" y="1744.4" width="203.1" height="25.1" fill="#fff" stroke="#000" stroke-width="1" shape-rendering="crispEdges"/>
<text x="837.7" y="1761.2" textLength="178.6">TAO_Fault_Tolerance_Service</text>
<rect x="831.0" y="1792.4" width="197.6" height="25.2" fill="#fff" stroke="#000" stroke-width="1" shape-rendering="crispEdges"/>
<text x="840.6" y="1809.3" textLength="173.1">TAO_Cleanup_Func_Registry</text>
<rect x="854.2" y="1840.2" width="152.4" height="25.3" fill="#fff" stroke="#000" stroke-width="1" shape-rendering="crispEdges"/>
<text x="863.8" y="1857.1" textLength="127.9">ACE_Service_Gestalt</text>
<rect x="879.2" y="2004.4" width="103.5" height="24.9" fill="#fff" stroke="#000" stroke-width="1" shape-rendering="crispEdges"/>
<text x="888.8" y="2021.1" textLength="79.0">TAO_Adapter</text>
<rect x="1140.1" y="207.7" width="298.6" height="24.6" fill="#fff" stroke="#000" stroke-width="1" shape-rendering="crispEdges"/>
<text x="1149.7" y="224.3" textLength="274.1">ACE_Reverse_Lock&lt; TAO_SYNCH_MUTEX &gt;</text>
<rect x="1463.4" y="8.4" width="199.2" height="25.3" fill="#fff" stroke="#000" stroke-width="1" shape-rendering="crispEdges"/>
<text x="1473.0" y="25.4" textLength="174.7">TAO_New_Leader_Generator</text>
<rect x="1510.3" y="95.4" width="104.4" height="25.3" fill="#fff" stroke="#000" stroke-width="1" shape-rendering="crispEdges"/>
<text x="1519.9" y="112.4" textLength="79.9">ACE_Reactor</text>
<rect x="1479.1" y="151.5" width="167.5" height="24.7" fill="#fff" stroke="#000" stroke-width="1" shape-rendering="crispEdges"/>
<text x="1488.7" y="168.2" textLength="143.0">ACE_Intrusive_List&lt; T &gt;</text>
<rect x="1502.3" y="1052.4" width="121.2" height="25.2" fill="#fff" stroke="#000" stroke-width="1" shape-rendering="crispEdges"/>
<text x="1511.9" y="1069.3" textLength="96.7">TAO_ORB_Core</text>
<rect x="1971.3" y="155.5" width="155.4" height="25.1" fill="#bfbfbf" stroke="#000" stroke-width="1" shape-rendering="crispEdges"/>
<text x="1980.9" y="172.4" textLength="130.9" style="stroke-width:0">TAO_Leader_Follower</text>
<rect x="1996.2" y="468.9" width="106.5" height="26.4" fill="#fff" stroke="#000" stroke-width="1" shape-rendering="crispEdges"/>
<text x="2005.8" y="486.4" textLength="82.0">CORBA::ORB</text>
<rect x="1991.2" y="939.2" width="115.3" height="25.2" fill="#fff" stroke="#f00" stroke-width="1" shape-rendering="crispEdges"/>
<text x="2000.8" y="956.1" textLength="90.8">CORBA::Object</text>
<rect x="1970.1" y="1075.0" width="158.4" height="25.5" fill="#fff" stroke="#000" stroke-width="1" shape-rendering="crispEdges"/>
<text x="1979.7" y="1092.0" textLength="133.9">TAO_Adapter_Registry</text>
<rect x="1916.0" y="1144.1" width="266.6" height="25.2" fill="#fff" stroke="#f00" stroke-width="1" shape-rendering="crispEdges"/>
<text x="1925.6" y="1161.0" textLength="242.1">TAO_Thread_Lane_Resources_Manager</text>
<rect x="160.1" y="263.2" width="86.7" height="25.1" fill="#fff" stroke="#000" stroke-width="1" shape-rendering="crispEdges"/>
<text x="169.7" y="280.1" textLength="62.2">ACE_Lock</text>
<rect x="7.3" y="461.0" width="393.4" height="26.4" fill="#fff" stroke="#000" stroke-width="1" shape-rendering="crispEdges"/>
<text x="16.9" y="478.5" textLength="368.9">ACE_Atomic_Op_Ex&lt; TAO_SYNCH_MUTEX, unsigned long &gt;</text>
<rect x="71.1" y="572.3" width="264.6" height="25.1" fill="#fff" stroke="#000" stroke-width="1" shape-rendering="crispEdges"/>
<text x="80.7" y="589.1" textLength="240.1">ACE_Array_Map&lt; Key, Value, EqualTo &gt;</text>
<rect x="108.3" y="1181.3" width="191.3" height="26.0" fill="#fff" stroke="#f00" stroke-width="1" shape-rendering="crispEdges"/>
<text x="117.9" y="1198.6" textLength="166.8">ACE_String_Base&lt; CHAR &gt;</text>
<rect x="144.3" y="1407.0" width="119.3" height="25.3" fill="#fff" stroke="#f00" stroke-width="1" shape-rendering="crispEdges"/>
<text x="153.9" y="1424.0" textLength="94.8">TAO_Policy_Set</text>
<rect x="120.2" y="1696.1" width="166.4" height="25.3" fill="#fff" stroke="#000" stroke-width="1" shape-rendering="crispEdges"/>
<text x="129.8" y="1713.0" textLength="141.9">TAO_Service_Callbacks</text>
<rect x="116.3" y="1783.0" width="174.1" height="25.2" fill="#fff" stroke="#f00" stroke-width="1" shape-rendering="crispEdges"/>
<text x="125.9" y="1799.9" textLength="149.6">ACE_Service_Repository</text>
<rect x="102.2" y="1831.2" width="204.3" height="25.3" fill="#fff" stroke="#f00" stroke-width="1" shape-rendering="crispEdges"/>
<text x="111.8" y="1848.1" textLength="179.8">ACE_Unbounded_Queue&lt; T &gt;</text>
<rect x="111.4" y="1911.9" width="185.2" height="25.3" fill="#fff" stroke="#f00" stroke-width="1" shape-rendering="crispEdges"/>
<text x="121.0" y="1928.9" textLength="160.7">ACE_Unbounded_Set&lt; T &gt;</text>
<text x="555.8" y="469.6" textLength="31.4">impl_</text>
<text x="553.1" y="580.0" textLength="35.8">table_</text>
<text x="522.0" y="635.0" textLength="97.0">endpoints_map_</text>
<text x="511.8" y="712.1" textLength="118.9">stub_factory_name_</text>
<text x="489.6" y="726.7" textLength="163.4">collocation_resolver_name_</text>
<text x="524.6" y="741.3" textLength="93.4">default_init_ref_</text>
<text x="472.4" y="755.9" textLength="197.7">endpoint_selector_factory_name_</text>
<text x="499.8" y="770.5" textLength="143.0">protocols_hooks_name_</text>
<text x="513.3" y="785.1" textLength="116.0">poa_factory_name_</text>
<text x="427.6" y="799.7" textLength="287.4">thread_lane_resources_manager_factory_name_</text>
<text x="529.7" y="814.3" textLength="83.2">pref_network_</text>
<text x="505.3" y="828.9" textLength="132.1">poa_factory_directive_</text>
<text x="555.7" y="1677.5" textLength="31.4">impl_</text>
<text x="511.9" y="1722.5" textLength="118.2">ft_service_callback_</text>
<text x="176.2" y="1755.0" textLength="53.3">svc_rep_</text>
<text x="555.2" y="1769.5" textLength="33.6">repo_</text>
<text x="535.9" y="1826.9" textLength="70.8">svc_queue_</text>
<text x="507.8" y="1841.5" textLength="127.0">svc_conf_file_queue_</text>
<text x="501.6" y="1864.0" textLength="139.4">processed_static_svcs_</text>
<text x="535.5" y="1878.6" textLength="71.5">static_svcs_</text>
<text x="900.0" y="324.2" textLength="56.9">max_time</text>
<text x="915.7" y="338.8" textLength="25.5">zero</text>
<text x="889.6" y="531.4" textLength="79.5">init_ref_map_</text>
<text x="880.1" y="1145.1" textLength="97.8">default_policies_</text>
<text x="902.7" y="1317.2" textLength="52.5">thr_mgr_</text>
<text x="897.9" y="1632.1" textLength="61.3">server_id_</text>
<text x="874.2" y="1948.0" textLength="110.9">protocol_factories_</text>
<text x="1239.3" y="108.3" textLength="96.3">implementation_</text>
<text x="1275.0" y="148.2" textLength="24.1">tail_</text>
<text x="1268.8" y="162.8" textLength="36.5">head_</text>
<text x="1239.0" y="264.2" textLength="97.1">object_init_lock_</text>
<text x="1191.4" y="365.1" textLength="191.9">thread_per_connection_timeout_</text>
<text x="1236.6" y="429.0" textLength="101.4">data_block_lock_</text>
<text x="1260.5" y="499.8" textLength="54.7">refcount_</text>
<text x="1237.0" y="586.7" textLength="100.7">object_ref_table_</text>
<text x="1242.8" y="628.3" textLength="89.0">policy_current_</text>
<text x="1227.8" y="676.0" textLength="118.9">request_dispatcher_</text>
<text x="1248.6" y="724.3" textLength="77.3">orb_params_</text>
<text x="1234.0" y="772.0" textLength="106.5">flushing_strategy_</text>
<text x="1247.9" y="821.1" textLength="78.8">stub_factory_</text>
<text x="1245.0" y="871.1" textLength="84.6">client_factory_</text>
<text x="1208.5" y="915.3" textLength="157.6">endpoint_selector_factory_</text>
<text x="1231.1" y="968.3" textLength="112.4">codeset_manager_</text>
<text x="1245.4" y="1017.2" textLength="83.9">bidir_adapter_</text>
<text x="1225.6" y="1059.9" textLength="123.3">collocation_resolver_</text>
<text x="1239.9" y="1080.1" textLength="94.8">parser_registry_</text>
<text x="1185.9" y="1191.9" textLength="202.8">network_priority_protocols_hooks_</text>
<text x="1235.9" y="1260.2" textLength="102.9">protocols_hooks_</text>
<text x="1276.4" y="1304.6" textLength="21.9">tm_</text>
<text x="1242.7" y="1372.2" textLength="90.5">server_factory_</text>
<text x="1235.4" y="1417.2" textLength="105.1">resource_factory_</text>
<text x="1230.3" y="1465.2" textLength="115.3">valuetype_adapter_</text>
<text x="1216.4" y="1507.1" textLength="143.0">ior_interceptor_adapter_</text>
<text x="1267.1" y="1553.1" textLength="41.6">rt_orb_</text>
<text x="1249.2" y="1567.7" textLength="77.3">poa_current_</text>
<text x="1256.2" y="1582.3" textLength="63.5">rt_current_</text>
<text x="1258.4" y="1596.9" textLength="59.1">root_poa_</text>
<text x="1237.9" y="1677.5" textLength="100.0">policy_manager_</text>
<text x="1256.2" y="1736.9" textLength="63.5">ft_service_</text>
<text x="1229.9" y="1793.1" textLength="116.0">tss_cleanup_funcs_</text>
<text x="1266.7" y="1847.2" textLength="42.3">config_</text>
<text x="1247.3" y="1976.3" textLength="81.0">poa_adapter_</text>
<text x="1537.5" y="68.5" textLength="48.1">reactor_</text>
<text x="1520.1" y="199.0" textLength="81.7">reverse_lock_</text>
<text x="1534.9" y="308.1" textLength="50.3">timeout_</text>
<text x="1534.5" y="441.0" textLength="54.7">refcount_</text>
<text x="1532.0" y="1800.0" textLength="58.4">adapters_</text>
<text x="1718.6" y="44.4" textLength="138.6">new_leader_generator_</text>
<text x="1764.4" y="115.3" textLength="48.1">reactor_</text>
<text x="1748.3" y="148.2" textLength="77.3">follower_set_</text>
<text x="1734.1" y="162.8" textLength="105.8">follower_free_list_</text>
<text x="1758.5" y="287.2" textLength="59.1">orb_core_</text>
<text x="1774.1" y="541.3" textLength="26.3">orb_</text>
<text x="1758.3" y="709.0" textLength="59.1">orb_core_</text>
<text x="1755.0" y="839.2" textLength="65.7">pi_current_</text>
<text x="1732.0" y="853.8" textLength="111.6">ior_manip_factory_</text>
<text x="1759.0" y="868.4" textLength="57.6">ior_table_</text>
<text x="1734.2" y="883.0" textLength="107.3">typecode_factory_</text>
<text x="1734.5" y="897.6" textLength="106.5">implrepo_service_</text>
<text x="1743.3" y="912.2" textLength="89.0">codec_factory_</text>
<text x="1717.4" y="926.8" textLength="140.8">compression_manager_</text>
<text x="1739.6" y="941.4" textLength="96.3">dynany_factory_</text>
<text x="1758.3" y="993.2" textLength="59.1">orb_core_</text>
<text x="1736.7" y="1057.3" textLength="102.1">adapter_registry_</text>
<text x="1758.3" y="1080.1" textLength="59.1">orb_core_</text>
<text x="1687.5" y="1105.0" textLength="200.6">thread_lane_resources_manager_</text>
<text x="1758.3" y="1155.6" textLength="59.1">orb_core_</text>
</svg></body></html>
